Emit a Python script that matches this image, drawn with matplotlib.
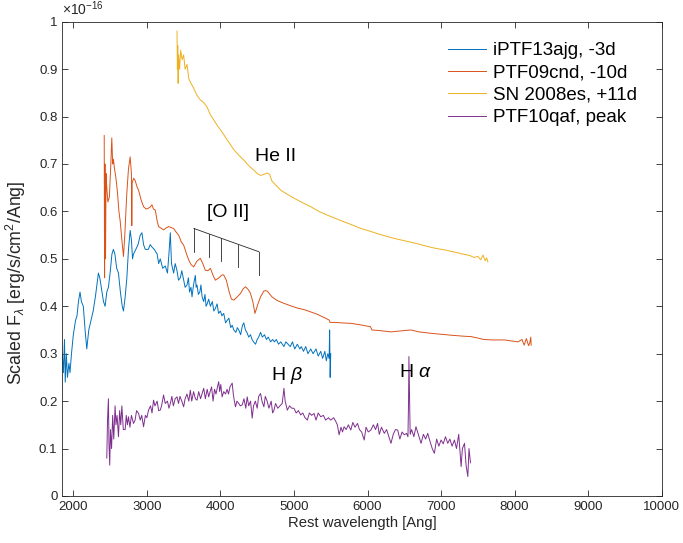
import matplotlib
matplotlib.use("Agg")
import matplotlib.pyplot as plt

# Spectra, wavelength in Angstrom and flux in units of 1e-16 erg/s/cm^2/Ang
wl_13ajg = [1850, 1865, 1880, 1890, 1905, 1920, 1940, 1955, 1975, 2000, 2030, 2050, 2070, 2091,
            2110, 2136, 2160, 2183, 2210, 2240, 2270, 2300, 2325, 2341, 2360, 2380, 2410, 2432,
            2455, 2477, 2500, 2525, 2545, 2565, 2590, 2614, 2640, 2665, 2682, 2705, 2728, 2750,
            2773, 2790, 2805, 2818, 2850, 2880, 2910, 2933, 2955, 2978, 3020, 3045, 3069, 3100,
            3140, 3160, 3182, 3215, 3250, 3280, 3300, 3319, 3335, 3364, 3385, 3410, 3430, 3455,
            3475, 3500, 3520, 3546, 3565, 3580, 3600, 3614, 3630, 3640, 3659, 3670, 3682, 3700,
            3720, 3735, 3751, 3773, 3790, 3805, 3820, 3840, 3864, 3890, 3910, 3930, 3955, 3975,
            4000, 4020, 4045, 4070, 4091, 4115, 4140, 4160, 4182, 4210, 4230, 4250, 4275, 4300,
            4318, 4340, 4360, 4385, 4409, 4430, 4450, 4478, 4500, 4520, 4546, 4570, 4600, 4625,
            4650, 4682, 4710, 4735, 4760, 4790, 4820, 4864, 4890, 4920, 4950, 4980, 5010, 5046,
            5080, 5100, 5130, 5160, 5190, 5228, 5260, 5300, 5330, 5364, 5390, 5420, 5440, 5460,
            5478, 5485, 5492, 5500]
fl_13ajg = [0.30, 0.26, 0.33, 0.24, 0.30, 0.25, 0.28, 0.26, 0.30, 0.34, 0.37, 0.38, 0.41, 0.43,
            0.41, 0.40, 0.35, 0.31, 0.35, 0.37, 0.39, 0.42, 0.45, 0.47, 0.46, 0.44, 0.41, 0.40,
            0.43, 0.44, 0.47, 0.51, 0.52, 0.51, 0.48, 0.47, 0.43, 0.40, 0.39, 0.42, 0.46, 0.52,
            0.56, 0.54, 0.50, 0.51, 0.52, 0.53, 0.55, 0.555, 0.53, 0.52, 0.52, 0.53, 0.525, 0.52,
            0.51, 0.49, 0.50, 0.48, 0.485, 0.47, 0.51, 0.555, 0.49, 0.47, 0.49, 0.475, 0.455, 0.46,
            0.475, 0.455, 0.44, 0.445, 0.46, 0.43, 0.44, 0.42, 0.44, 0.45, 0.465, 0.44, 0.445, 0.425,
            0.43, 0.445, 0.42, 0.41, 0.425, 0.40, 0.405, 0.415, 0.40, 0.41, 0.39, 0.395, 0.405, 0.385,
            0.39, 0.38, 0.385, 0.365, 0.37, 0.375, 0.355, 0.36, 0.35, 0.345, 0.355, 0.35, 0.34, 0.36,
            0.365, 0.35, 0.345, 0.335, 0.34, 0.33, 0.325, 0.32, 0.33, 0.335, 0.345, 0.335, 0.34, 0.33,
            0.335, 0.325, 0.33, 0.325, 0.33, 0.32, 0.325, 0.315, 0.325, 0.32, 0.315, 0.325, 0.31, 0.32,
            0.31, 0.315, 0.305, 0.315, 0.30, 0.31, 0.30, 0.31, 0.295, 0.305, 0.29, 0.305, 0.285, 0.30,
            0.29, 0.35, 0.25, 0.30]

wl_09cnd = [2420, 2425, 2430, 2438, 2445, 2455, 2470, 2490, 2510, 2523, 2535, 2545, 2560, 2580,
            2600, 2620, 2637, 2660, 2682, 2700, 2715, 2728, 2750, 2773, 2790, 2795, 2800, 2820,
            2841, 2870, 2887, 2920, 2955, 2990, 3023, 3050, 3069, 3090, 3114, 3140, 3159, 3190,
            3227, 3260, 3296, 3330, 3364, 3400, 3432, 3470, 3500, 3540, 3568, 3600, 3636, 3680,
            3727, 3760, 3795, 3830, 3864, 3900, 3932, 3980, 4020, 4045, 4080, 4120, 4150, 4182,
            4230, 4273, 4310, 4341, 4380, 4409, 4440, 4470, 4510, 4546, 4590, 4614, 4637, 4700,
            4773, 4850, 4955, 5050, 5137, 5230, 5319, 5400, 5478, 5490, 5550, 5650, 5773, 5900,
            6000, 6040, 6060, 6150, 6319, 6450, 6592, 6700, 6864, 7000, 7137, 7300, 7410, 7500,
            7580, 7700, 7864, 7950, 8046, 8100, 8130, 8160, 8190, 8205, 8220, 8225]
fl_09cnd = [0.76, 0.46, 0.70, 0.50, 0.68, 0.65, 0.62, 0.63, 0.70, 0.755, 0.70, 0.71, 0.69, 0.67,
            0.64, 0.60, 0.58, 0.54, 0.505, 0.55, 0.60, 0.64, 0.69, 0.715, 0.68, 0.57, 0.66, 0.67,
            0.665, 0.65, 0.645, 0.625, 0.61, 0.605, 0.607, 0.61, 0.614, 0.605, 0.603, 0.58, 0.568, 0.565,
            0.561, 0.565, 0.568, 0.566, 0.564, 0.556, 0.55, 0.535, 0.529, 0.51, 0.498, 0.488, 0.483, 0.495,
            0.501, 0.49, 0.476, 0.475, 0.48, 0.465, 0.455, 0.46, 0.466, 0.466, 0.455, 0.43, 0.415, 0.413,
            0.42, 0.427, 0.437, 0.441, 0.435, 0.427, 0.41, 0.385, 0.405, 0.42, 0.432, 0.433, 0.432, 0.42,
            0.412, 0.407, 0.401, 0.396, 0.393, 0.388, 0.383, 0.377, 0.371, 0.366, 0.366, 0.365, 0.364, 0.361,
            0.358, 0.357, 0.35, 0.349, 0.346, 0.348, 0.350, 0.346, 0.343, 0.341, 0.339, 0.337, 0.336, 0.333,
            0.33, 0.329, 0.329, 0.327, 0.325, 0.33, 0.318, 0.332, 0.317, 0.322, 0.335, 0.318]

wl_08es = [3410, 3415, 3420, 3425, 3432, 3445, 3460, 3480, 3500, 3520, 3546, 3570, 3600, 3636,
           3680, 3727, 3770, 3819, 3860, 3909, 3950, 4000, 4045, 4091, 4140, 4182, 4230, 4273,
           4320, 4364, 4410, 4455, 4500, 4546, 4590, 4637, 4670, 4700, 4750, 4819, 4900, 5000,
           5110, 5228, 5340, 5455, 5570, 5682, 5800, 5910, 6020, 6137, 6250, 6364, 6480, 6592,
           6700, 6819, 6930, 7046, 7160, 7273, 7390, 7450, 7501, 7540, 7570, 7600, 7620, 7637]
fl_08es = [0.98, 0.90, 0.95, 0.87, 0.93, 0.90, 0.94, 0.92, 0.93, 0.90, 0.91, 0.88, 0.87, 0.86,
           0.845, 0.835, 0.83, 0.82, 0.805, 0.793, 0.783, 0.772, 0.762, 0.751, 0.74, 0.73, 0.722, 0.715,
           0.708, 0.70, 0.693, 0.687, 0.68, 0.676, 0.678, 0.681, 0.678, 0.664, 0.656, 0.645, 0.637, 0.628,
           0.619, 0.61, 0.60, 0.592, 0.585, 0.578, 0.571, 0.564, 0.559, 0.553, 0.548, 0.543, 0.539, 0.535,
           0.531, 0.526, 0.522, 0.519, 0.515, 0.511, 0.507, 0.503, 0.505, 0.498, 0.508, 0.496, 0.502, 0.494]

wl_10qaf = [2455, 2465, 2477, 2485, 2495, 2505, 2520, 2535, 2550, 2568, 2580, 2595, 2614, 2630,
            2645, 2660, 2680, 2705, 2720, 2735, 2750, 2770, 2790, 2818, 2840, 2860, 2887, 2910,
            2930, 2955, 2980, 3000, 3023, 3050, 3070, 3091, 3110, 3140, 3160, 3182, 3200, 3227,
            3250, 3280, 3300, 3319, 3340, 3360, 3385, 3410, 3430, 3450, 3475, 3500, 3520, 3545,
            3570, 3591, 3610, 3635, 3660, 3682, 3705, 3730, 3750, 3773, 3795, 3820, 3841, 3860,
            3880, 3900, 3920, 3940, 3960, 3977, 3990, 4005, 4023, 4045, 4070, 4090, 4110, 4130,
            4160, 4175, 4190, 4205, 4225, 4250, 4270, 4296, 4320, 4345, 4364, 4385, 4410, 4432,
            4450, 4475, 4500, 4520, 4546, 4565, 4591, 4610, 4635, 4660, 4690, 4710, 4728, 4750,
            4780, 4810, 4840, 4864, 4880, 4910, 4940, 4970, 5000, 5030, 5060, 5091, 5120, 5150,
            5182, 5210, 5240, 5273, 5300, 5330, 5364, 5400, 5430, 5470, 5500, 5540, 5569, 5590,
            5614, 5640, 5660, 5682, 5710, 5740, 5773, 5800, 5830, 5864, 5890, 5920, 5955, 5980,
            6010, 6046, 6080, 6110, 6137, 6160, 6190, 6228, 6260, 6290, 6319, 6350, 6380, 6410,
            6440, 6470, 6500, 6530, 6550, 6558, 6563, 6570, 6580, 6600, 6630, 6659, 6690, 6728,
            6760, 6790, 6819, 6850, 6880, 6909, 6940, 6970, 7000, 7030, 7060, 7091, 7120, 7150,
            7182, 7210, 7240, 7273, 7290, 7319, 7340, 7364, 7380, 7400]
fl_10qaf = [0.08, 0.16, 0.205, 0.11, 0.065, 0.14, 0.10, 0.17, 0.12, 0.19, 0.15, 0.17, 0.125, 0.18,
            0.15, 0.19, 0.14, 0.14, 0.17, 0.15, 0.167, 0.145, 0.17, 0.153, 0.16, 0.18, 0.174, 0.16,
            0.17, 0.146, 0.17, 0.165, 0.181, 0.19, 0.175, 0.202, 0.19, 0.20, 0.18, 0.181, 0.19, 0.213,
            0.195, 0.20, 0.185, 0.195, 0.21, 0.19, 0.205, 0.209, 0.195, 0.21, 0.20, 0.188, 0.205, 0.215,
            0.20, 0.223, 0.20, 0.22, 0.205, 0.202, 0.22, 0.205, 0.215, 0.227, 0.205, 0.225, 0.209, 0.22,
            0.23, 0.20, 0.225, 0.215, 0.23, 0.241, 0.22, 0.235, 0.209, 0.22, 0.215, 0.225, 0.215, 0.23,
            0.238, 0.215, 0.20, 0.188, 0.20, 0.195, 0.19, 0.192, 0.205, 0.185, 0.209, 0.19, 0.20, 0.164,
            0.19, 0.20, 0.185, 0.21, 0.216, 0.20, 0.188, 0.21, 0.20, 0.185, 0.20, 0.175, 0.181, 0.195,
            0.185, 0.19, 0.195, 0.227, 0.20, 0.181, 0.19, 0.185, 0.185, 0.175, 0.18, 0.171, 0.175, 0.165,
            0.16, 0.175, 0.17, 0.174, 0.16, 0.175, 0.167, 0.17, 0.16, 0.165, 0.16, 0.165, 0.157, 0.15,
            0.129, 0.145, 0.135, 0.146, 0.14, 0.15, 0.139, 0.155, 0.145, 0.153, 0.14, 0.135, 0.118, 0.145,
            0.135, 0.139, 0.15, 0.14, 0.153, 0.13, 0.145, 0.132, 0.14, 0.125, 0.111, 0.13, 0.14, 0.139,
            0.12, 0.135, 0.129, 0.132, 0.125, 0.20, 0.294, 0.22, 0.13, 0.14, 0.125, 0.146, 0.13, 0.111,
            0.13, 0.12, 0.132, 0.115, 0.10, 0.09, 0.12, 0.105, 0.118, 0.11, 0.125, 0.111, 0.12, 0.105,
            0.118, 0.10, 0.13, 0.062, 0.10, 0.111, 0.065, 0.041, 0.10, 0.07]

names = ["iPTF13ajg, -3d", "PTF09cnd, -10d", "SN 2008es, +11d", "PTF10qaf, peak"]
colors = ["#0072BD", "#D95319", "#EDB120", "#7E2F8E"]

# [O II] marker: slanted bar with drops at each line
oii_wl = [3640, 3851, 4010, 4242, 4523]
oii_top = [0.564, 0.552, 0.543, 0.530, 0.515]
oii_bot = [0.515, 0.503, 0.496, 0.482, 0.466]

plt.rcParams.update({
    "font.family": ["Liberation Sans", "DejaVu Sans"],
    "mathtext.fontset": "custom",
    "mathtext.rm": "Liberation Sans",
    "mathtext.it": "Liberation Sans:italic",
    "axes.edgecolor": "#262626",
    "axes.linewidth": 0.6,
    "xtick.color": "#262626",
    "ytick.color": "#262626",
    "xtick.direction": "in",
    "ytick.direction": "in",
    "xtick.top": True,
    "ytick.right": True,
    "xtick.major.size": 4.5,
    "ytick.major.size": 4.5,
    "xtick.major.width": 0.6,
    "ytick.major.width": 0.6,
    "xtick.labelsize": 9.5,
    "ytick.labelsize": 9.5,
})

fig = plt.figure(figsize=(6.83, 5.43), dpi=100)
ax = fig.add_axes([0.0912, 0.0866, 0.8776, 0.8734])

spectra = [(wl_13ajg, fl_13ajg), (wl_09cnd, fl_09cnd), (wl_08es, fl_08es), (wl_10qaf, fl_10qaf)]
for (wl, fl), name, c in zip(spectra, names, colors):
    ax.plot(wl, fl, color=c, lw=0.7, label=name)

ax.plot([oii_wl[0], oii_wl[-1]], [oii_top[0], oii_top[-1]], color="#262626", lw=0.6)
for w, t, b in zip(oii_wl, oii_top, oii_bot):
    ax.plot([w, w], [t, b], color="#262626", lw=0.6)

ax.text(4470, 0.715, "He II", fontsize=14, va="center", ha="left")
ax.text(3820, 0.597, "[O II]", fontsize=14, va="center", ha="left")
ax.text(6430, 0.261, r"H $\alpha$", fontsize=14, va="center", ha="left")
ax.text(4690, 0.253, r"H $\beta$", fontsize=14, va="center", ha="left")

ax.set_xlim(1850, 10000)
ax.set_ylim(0, 1)
ax.set_xticks(range(2000, 10001, 1000))
ax.set_yticks([i / 10 for i in range(11)])
ax.set_yticklabels(["0", "0.1", "0.2", "0.3", "0.4", "0.5", "0.6", "0.7", "0.8", "0.9", "1"])
ax.set_xlabel("Rest wavelength [Ang]", fontsize=10.7, color="#262626", labelpad=2)
ax.set_ylabel(r"Scaled F$_\lambda$ [erg/s/cm$^2$/Ang]", fontsize=12.8, color="#262626")
ax.yaxis.set_label_coords(-0.058, 0.45)
ax.text(0.0, 1.008, r"$\times10^{-16}$", transform=ax.transAxes, fontsize=10,
        color="#262626", ha="left", va="bottom")

ax.legend(loc="upper left", bbox_to_anchor=(0.6435, 0.957), frameon=False, fontsize=13.5,
          handlelength=2.0, handletextpad=0.38, labelspacing=0.28, borderpad=0,
          borderaxespad=0)

fig.savefig("out.png", dpi=100, facecolor="white")
